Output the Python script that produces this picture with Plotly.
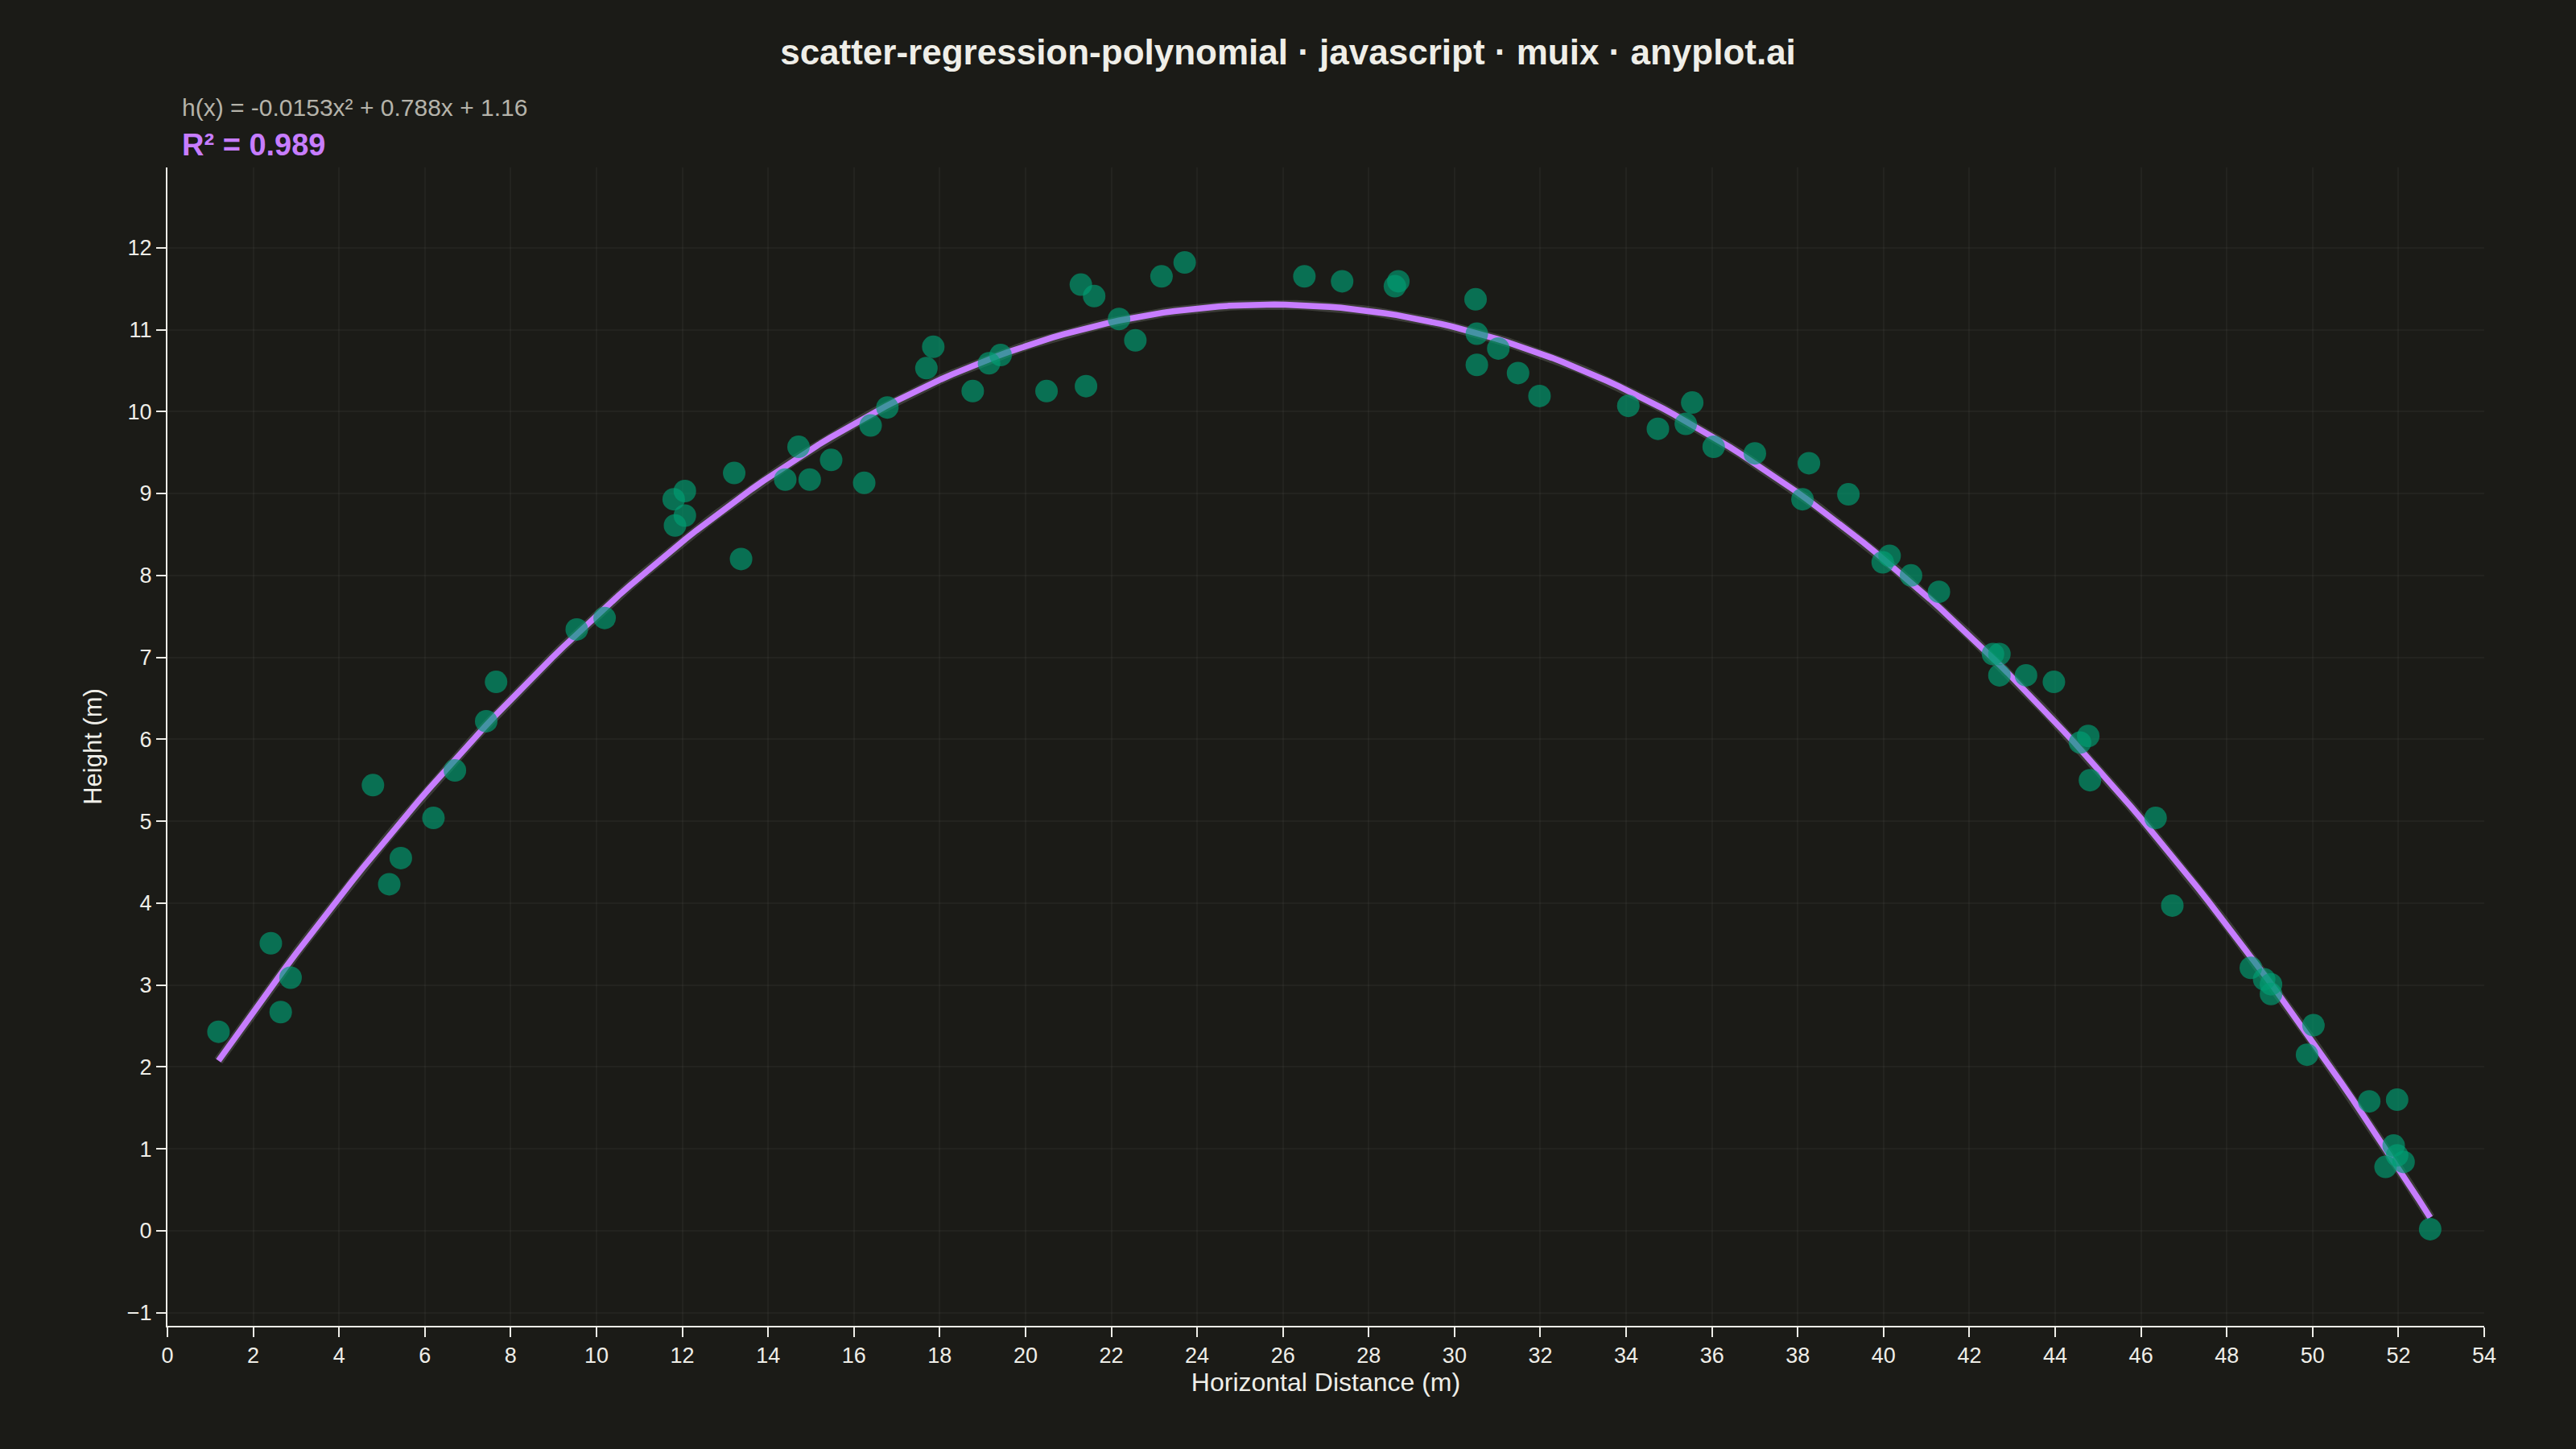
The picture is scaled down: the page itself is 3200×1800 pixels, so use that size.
import numpy as np
import plotly.graph_objects as go

# distancia horizontal (m) y altura (m)
x_dist = [1.19, 2.41, 2.64, 2.87, 4.79, 5.17, 5.44, 6.20, 6.70, 7.43, 7.66, 9.54, 10.19,
          11.80, 12.06, 11.83, 12.06, 13.21, 13.37, 14.40, 14.71, 14.97, 15.47, 16.24,
          16.39, 16.78, 17.69, 17.85, 18.77, 19.15, 19.42, 20.49, 21.29, 21.41, 21.60,
          22.18, 22.56, 23.17, 23.71, 26.50, 27.38, 28.61, 28.69, 30.49, 30.52, 30.52,
          31.02, 31.48, 31.98, 34.05, 34.74, 35.39, 35.54, 36.04, 37.00, 38.11, 38.26,
          39.18, 39.98, 40.14, 40.64, 41.29, 42.55, 42.70, 42.70, 43.32, 43.97, 44.58,
          44.77, 44.81, 46.34, 46.73, 48.56, 48.87, 49.03, 49.03, 50.02, 49.87, 51.32,
          51.97, 51.70, 51.89, 51.97, 52.12, 52.74]
y_height = [2.43, 3.51, 2.67, 3.09, 5.44, 4.23, 4.55, 5.04, 5.62, 6.22, 6.70, 7.34, 7.48,
            8.93, 9.03, 8.61, 8.73, 9.25, 8.20, 9.17, 9.57, 9.17, 9.41, 9.13,
            9.83, 10.05, 10.53, 10.79, 10.25, 10.59, 10.69, 10.25, 11.55, 10.31, 11.41,
            11.13, 10.87, 11.65, 11.82, 11.65, 11.59, 11.53, 11.59, 11.37, 10.95, 10.57,
            10.77, 10.47, 10.19, 10.07, 9.79, 9.85, 10.11, 9.57, 9.49, 8.93, 9.37,
            8.99, 8.16, 8.24, 8.00, 7.80, 7.04, 7.04, 6.78, 6.78, 6.70, 5.96,
            6.04, 5.50, 5.04, 3.97, 3.21, 3.07, 2.89, 3.01, 2.51, 2.15, 1.58,
            1.60, 0.78, 1.04, 0.92, 0.84, 0.02]

# coeficientes del ajuste polinomico (grado 2), como aparecen en el grafico
coefs = [-0.0153, 0.788, 1.16]
r2_text = 'R² = 0.989'
eq_text = 'h(x) = -0.0153x² + 0.788x + 1.16'

x_fit = np.linspace(min(x_dist), max(x_dist), 200)
y_fit = np.polyval(coefs, x_fit)

bg = '#1b1b17'
ink = '#efeee8'
purple = '#c77dff'
font = 'Liberation Sans, Arial, sans-serif'

fig = go.Figure()
# halo suave bajo la curva
fig.add_trace(go.Scatter(x=x_fit, y=y_fit, mode='lines',
                         line=dict(color='rgba(255,255,255,0.14)', width=12),
                         hoverinfo='skip', showlegend=False))
fig.add_trace(go.Scatter(x=x_fit, y=y_fit, mode='lines',
                         line=dict(color=purple, width=7.5), showlegend=False))
fig.add_trace(go.Scatter(x=x_dist, y=y_height, mode='markers',
                         marker=dict(color='#009E73', size=28, opacity=0.65, line=dict(width=0)),
                         showlegend=False))

fig.update_layout(
    width=3200, height=1800, autosize=False,
    paper_bgcolor=bg, plot_bgcolor=bg,
    font=dict(family=font, color=ink, size=27),
    margin=dict(l=208, r=114, t=208, b=153),
    title=dict(text='<b>scatter-regression-polynomial · javascript · muix · anyplot.ai</b>',
               x=0.5, xanchor='center', y=1 - 65 / 1800, yanchor='middle',
               font=dict(size=44, color=ink, family=font)),
)

fig.update_xaxes(range=[0, 54], dtick=2, showline=True, linecolor=ink, linewidth=2,
                 ticks='outside', ticklen=12, tickwidth=2, tickcolor=ink,
                 showgrid=True, gridcolor='rgba(255,255,255,0.035)', gridwidth=2, zeroline=False,
                 title=dict(text='Horizontal Distance (m)', font=dict(size=32), standoff=2))
fig.update_yaxes(range=[-1.16, 12.98], dtick=1, showline=True, linecolor=ink, linewidth=2,
                 ticks='outside', ticklen=12, tickwidth=2, tickcolor=ink,
                 showgrid=True, gridcolor='rgba(255,255,255,0.035)', gridwidth=2, zeroline=False,
                 title=dict(text='Height (m)', font=dict(size=31), standoff=22))

fig.add_annotation(text=eq_text, xref='paper', yref='paper', x=0, y=1,
                   xanchor='left', yanchor='middle', xshift=16, yshift=75,
                   showarrow=False, font=dict(size=30, color='#b5b3aa'))
fig.add_annotation(text='<b>' + r2_text + '</b>', xref='paper', yref='paper', x=0, y=1,
                   xanchor='left', yanchor='middle', xshift=16, yshift=28,
                   showarrow=False, font=dict(size=38, color=purple))

fig.write_html('out.html', config={'displayModeBar': False},
               post_script="document.body.style.margin='0';"
                           "document.body.style.background='#1b1b17';")
